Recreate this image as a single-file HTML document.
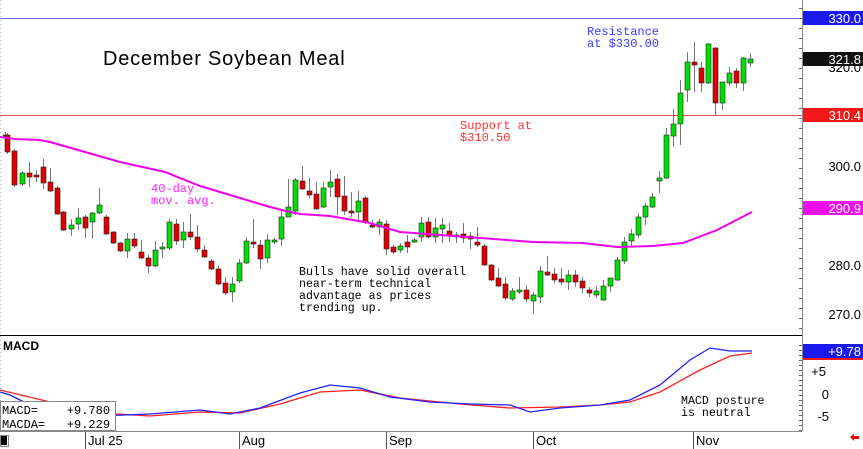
<!DOCTYPE html>
<html><head><meta charset="utf-8"><style>
html,body{margin:0;padding:0;background:#fff;}
svg{display:block;}
text{font-family:"Liberation Sans",sans-serif;}
.m{font-family:"Liberation Mono",monospace;}
</style></head><body>
<svg id="s" width="863" height="449" viewBox="0 0 863 449" xmlns="http://www.w3.org/2000/svg">
<rect x="0" y="0" width="863" height="449" fill="#fff"/>
<line x1="802.5" y1="0" x2="802.5" y2="431" stroke="#888" stroke-width="1"/>
<line x1="0" y1="335.5" x2="802" y2="335.5" stroke="#000" stroke-width="1"/>
<line x1="0" y1="431.5" x2="802" y2="431.5" stroke="#888" stroke-width="1"/>
<line x1="0.5" y1="0" x2="0.5" y2="431" stroke="#bbb" stroke-width="1" stroke-dasharray="1,3"/>
<line x1="0" y1="18.5" x2="802" y2="18.5" stroke="#6a6af0" stroke-width="1"/>
<line x1="0" y1="115.5" x2="802" y2="115.5" stroke="#e05050" stroke-width="1"/>
<g id="candles"></g>
<polyline fill="none" stroke="#ee00ee" stroke-width="2" points="0,137 15,139 40,140 50,142 85,152 120,162 165,172 200,186 240,198 270,207 290,212 300,214 330,216 370,223 400,232 467,237 533,242 583,243 617,247 653,246 683,243 717,230 752,212"/>
<text x="103" y="65" font-size="20" letter-spacing="0.8" fill="#000">December Soybean Meal</text>
<text class="m" x="587" y="35" font-size="12" fill="#3a3aff">Resistance</text>
<text class="m" x="587" y="47" font-size="12" fill="#3a3aff">at $330.00</text>
<text class="m" x="460" y="129" font-size="12" fill="#ff3030">Support at</text>
<text class="m" x="460" y="141" font-size="12" fill="#ff3030">$310.50</text>
<text class="m" x="151" y="192" font-size="12" fill="#ff22ff">40-day</text>
<text class="m" x="151" y="204" font-size="12" fill="#ff22ff">mov. avg.</text>
<g class="m" font-size="11.6" fill="#000">
<text class="m" x="299" y="275">Bulls have solid overall</text>
<text class="m" x="299" y="287">near-term technical</text>
<text class="m" x="299" y="299">advantage as prices</text>
<text class="m" x="299" y="311">trending up.</text>
<text class="m" x="681" y="404">MACD posture</text>
<text class="m" x="681" y="416">is neutral</text>
</g>
<text x="3" y="350" font-size="12" font-weight="bold" fill="#000">MACD</text>
<polyline fill="none" stroke="#ff2020" stroke-width="1.3" points="0,390 50,402 100,413 150,416 200,412 240,413 280,404 320,392 360,390 400,398 460,404 510,408 560,407 600,405 630,402 660,392 700,370 730,356 752,353"/>
<polyline fill="none" stroke="#2020ff" stroke-width="1.3" points="0,392 10,395 30,405 60,412 100,416 150,414 200,410 230,414 260,408 300,393 330,385 360,388 390,397 430,402 470,404 510,405 530,412 560,408 600,405 630,400 660,385 690,360 710,348 730,351 752,351"/>
<rect x="0.5" y="401.5" width="115" height="29" fill="#fff" stroke="#888"/>
<text class="m" x="2" y="414" font-size="12" fill="#000">MACD=&#160;&#160;&#160;&#160;+9.780</text>
<text class="m" x="2" y="428" font-size="12" fill="#000">MACDA=&#160;&#160;&#160;+9.229</text>
<rect x="0" y="432" width="802" height="17" fill="#fff"/>
<rect x="1" y="436" width="6" height="9" fill="#000"/>
<rect x="0.5" y="435.5" width="8" height="11" fill="none" stroke="#888"/>
<g font-size="13" fill="#000">
<line x1="85.5" y1="432" x2="85.5" y2="449" stroke="#555"/><text x="88" y="445">Jul 25</text>
<line x1="239.5" y1="432" x2="239.5" y2="449" stroke="#555"/><text x="242" y="445">Aug</text>
<line x1="386.5" y1="432" x2="386.5" y2="449" stroke="#555"/><text x="389" y="445">Sep</text>
<line x1="533.5" y1="432" x2="533.5" y2="449" stroke="#555"/><text x="536" y="445">Oct</text>
<line x1="693.5" y1="432" x2="693.5" y2="449" stroke="#555"/><text x="696" y="445">Nov</text>
</g>
<g font-size="13" fill="#000" text-anchor="end">
<text x="861" y="72">320.0</text>
<text x="861" y="171">300.0</text>
<text x="861" y="270">280.0</text>
<text x="861" y="319">270.0</text>
<text x="826" y="376">+5</text>
<text x="829" y="399">0</text>
<text x="829" y="421">-5</text>
</g>
<rect x="803" y="11" width="60" height="14" fill="#1a1aee"/><text x="861" y="23" font-size="13" fill="#fff" text-anchor="end">330.0</text>
<rect x="803" y="52" width="60" height="14" fill="#111"/><text x="861" y="64" font-size="13" fill="#fff" text-anchor="end">321.8</text>
<rect x="803" y="108" width="60" height="14" fill="#f01818"/><text x="861" y="120" font-size="13" fill="#fff" text-anchor="end">310.4</text>
<rect x="803" y="201" width="60" height="14" fill="#f010f0"/><text x="861" y="213" font-size="13" fill="#fff" text-anchor="end">290.9</text>
<rect x="803" y="344" width="60" height="14" fill="#1a1aee"/><rect x="803" y="358" width="60" height="2" fill="#f01818"/><text x="861" y="356" font-size="13" fill="#fff" text-anchor="end">+9.78</text>
<polygon points="850,437 854,434 854,436 859,436 859,439 854,439 854,441" fill="#e00000"/>
<g id="ticks"></g>
</svg>
<script>
var D=[
[5,135,138,132,142,'g'],[7,135,152,133,154,'r'],[14,151,185,149,187,'r'],[22,173,184,171,186,'g'],[29,173,177,162,187,'r'],[36,175,176,170,182,'r'],[43,167,183,159,189,'r'],[50,182,191,168,192,'r'],[57,188,214,186,215,'r'],[63,212,230,211,231,'r'],[71,225,229,219,236,'g'],[78,218,224,208,230,'g'],[85,217,228,215,238,'r'],[92,213,222,212,239,'g'],[99,205,213,188,214,'g'],[106,217,234,215,235,'r'],[113,232,243,231,244,'r'],[120,243,251,242,252,'r'],[127,239,251,233,258,'g'],[134,239,246,233,248,'r'],[141,252,258,240,259,'r'],[148,258,266,255,273,'r'],[155,250,266,241,267,'g'],[162,247,248,242,258,'g'],[169,222,248,219,250,'g'],[176,224,241,219,245,'r'],[183,232,240,222,248,'g'],[190,232,237,214,240,'r'],[197,237,249,225,252,'r'],[204,250,257,245,258,'r'],[211,261,269,259,270,'r'],[218,269,284,266,285,'r'],[225,283,293,277,295,'r'],[232,284,292,277,302,'g'],[239,263,281,259,283,'g'],[246,241,263,237,264,'g'],[253,242,244,219,248,'r'],[260,245,259,240,269,'r'],[267,240,258,234,263,'g'],[274,240,242,238,244,'g'],[281,217,239,210,246,'g'],[288,207,217,179,217,'g'],[295,180,211,178,215,'g'],[302,181,189,166,190,'r'],[309,191,195,178,198,'r'],[316,194,209,182,210,'r'],[323,188,207,182,208,'g'],[330,182,187,170,197,'g'],[337,179,197,174,215,'r'],[344,196,211,176,215,'r'],[351,211,213,192,217,'r'],[358,201,212,191,222,'g'],[365,198,222,196,224,'r'],[372,225,227,220,228,'r'],[379,222,227,219,235,'g'],[386,224,249,220,255,'r'],[393,247,252,245,254,'r'],[400,246,250,243,253,'g'],
[407,242,247,235,253,'r'],[414,240,241,238,243,'g'],[421,223,237,217,242,'g'],[428,222,237,217,238,'r'],[435,228,237,218,243,'g'],[442,225,229,218,243,'g'],[449,231,236,223,242,'r'],[456,235,236,232,243,'g'],[463,234,238,223,243,'r'],[470,236,239,232,249,'r'],[477,242,245,227,247,'r'],[484,246,265,244,266,'r'],[491,265,280,264,281,'r'],[498,278,286,268,287,'r'],[505,284,298,277,300,'r'],[512,291,299,288,301,'g'],[519,290,292,277,294,'g'],[526,290,299,285,302,'r'],[533,295,301,292,314,'g'],[540,271,297,266,303,'g'],[547,272,275,256,276,'r'],[554,274,280,268,283,'r'],[561,279,282,268,285,'r'],[568,275,282,270,290,'g'],[575,275,282,270,287,'r'],[582,281,288,277,293,'r'],[589,290,293,287,297,'r'],[596,291,295,286,298,'g'],[603,286,300,280,301,'g'],[610,278,286,278,292,'g'],[617,260,280,257,281,'g'],[624,242,261,237,264,'g'],[631,234,241,229,247,'g'],[638,217,235,213,238,'g'],[645,206,217,203,225,'g'],[652,197,207,193,208,'g'],[659,178,181,171,193,'g'],[666,135,178,128,179,'g'],[673,124,136,109,147,'g'],[680,93,124,80,145,'g'],[687,62,90,52,102,'g'],[694,62,65,42,92,'r'],[701,68,83,62,92,'r'],[708,44,83,43,84,'g'],[715,48,103,47,115,'r'],[722,82,103,82,110,'g'],[729,73,83,67,86,'g'],[736,71,83,68,88,'r'],[743,58,83,57,91,'g'],[750,59,63,53,67,'g']];
var g=document.getElementById('candles'),h='';
D.forEach(function(c){var x=c[0];
h+='<line x1="'+(x+0.5)+'" y1="'+c[3]+'" x2="'+(x+0.5)+'" y2="'+c[4]+'" stroke="#777" stroke-width="1"/>';
var t=c[1],b=c[2];if(b-t<2)b=t+2;
h+='<rect x="'+(x-2)+'" y="'+t+'" width="5" height="'+(b-t)+'" fill="'+(c[5]=='g'?'#00e000':'#e00000')+'" stroke="#222" stroke-width="0.6"/>';});
g.innerHTML=h;
var t='';for(var y=8;y<335;y+=10){t+='<line x1="799" y1="'+y+'.5" x2="802" y2="'+y+'.5" stroke="#666"/>';}
for(var y=345;y<431;y+=5){t+='<line x1="799" y1="'+y+'.5" x2="802" y2="'+y+'.5" stroke="#666"/>';}
document.getElementById('ticks').innerHTML=t;
</script>
</body></html>
